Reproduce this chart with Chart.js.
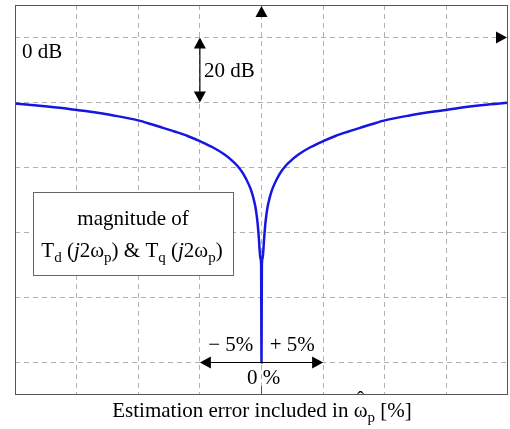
<!DOCTYPE html>
<html>
<head>
<meta charset="utf-8">
<script src="https://cdn.jsdelivr.net/npm/chart.js@4.4.1/dist/chart.umd.min.js"></script>
<style>
  body { margin: 0; background: #fff; }
</style>
</head>
<body>
<canvas id="grafico" width="510" height="429"></canvas>
<script>
// error de estimacion [%] y magnitud [dB]
var xPct = [-20, -18, -16, -15, -14, -12, -10, -9, -8, -7, -6, -5, -4, -3, -2.5, -2, -1.5, -1, -0.8, -0.65, -0.5, -0.4, -0.32, -0.25, -0.2, -0.15, -0.08, -0.03, 0,
            0.03, 0.08, 0.15, 0.2, 0.25, 0.32, 0.4, 0.5, 0.65, 0.8, 1, 1.5, 2, 2.5, 3, 4, 5, 6, 7, 8, 9, 10, 12, 14, 15, 16, 18, 20];
var magDb = [-20.3, -21.0, -21.8, -22.3, -22.8, -24.0, -25.5, -26.6, -27.8, -29.0, -30.3, -31.9, -33.7, -36.0, -37.5, -39.3, -41.8, -45.5, -47.5, -49.5, -52.0, -54.5, -57.0, -60.0, -62.5, -65.5, -68.0, -70.0, -100,
             -70.0, -68.0, -65.5, -62.5, -60.0, -57.0, -54.5, -52.0, -49.5, -47.5, -45.5, -41.8, -39.3, -37.5, -36.0, -33.7, -31.9, -30.3, -29.0, -27.8, -26.6, -25.5, -24.0, -22.8, -22.3, -21.7, -20.8, -20.1];
var xTicks = [-15, -10, -5, 0, 5, 10, 15];
var yTicks = [-100, -80, -60, -40, -20, 0];

var puntos = [];
for (var i = 0; i < xPct.length; i++) {
  puntos.push({ x: xPct[i], y: magDb[i] });
}

var fuente = '"Liberation Serif", "Times New Roman", serif';

function flecha(c, x, y, dir) {
  // punta de flecha rellena, dir: 'up','down','left','right'
  var l = 11, h = 6;
  c.beginPath();
  c.moveTo(x, y);
  if (dir == 'up') { c.lineTo(x - h, y + l); c.lineTo(x + h, y + l); }
  if (dir == 'down') { c.lineTo(x - h, y - l); c.lineTo(x + h, y - l); }
  if (dir == 'left') { c.lineTo(x + l, y - h); c.lineTo(x + l, y + h); }
  if (dir == 'right') { c.lineTo(x - l, y - h); c.lineTo(x - l, y + h); }
  c.closePath();
  c.fill();
}

// texto con subindices: [texto, tipo] tipo: 'n' normal, 's' subindice, 'i' italica
function textoMixto(c, partes, xc, y) {
  var total = 0;
  var fonts = { n: '21px ' + fuente, s: '15px ' + fuente, i: 'italic 21px ' + fuente };
  partes.forEach(function (p) { c.font = fonts[p[1]]; total += c.measureText(p[0]).width; });
  var x = xc - total / 2;
  c.textAlign = 'left';
  var pos = [];
  partes.forEach(function (p) {
    c.font = fonts[p[1]];
    c.fillText(p[0], x, p[1] == 's' ? y + 5 : y);
    var w = c.measureText(p[0]).width;
    pos.push([x, w]);
    x += w;
  });
  return pos;
}

var anotaciones = {
  id: 'anotaciones',
  afterDraw: function (chart) {
    var c = chart.ctx;
    var a = chart.chartArea;
    var sx = chart.scales.x, sy = chart.scales.y;
    c.save();
    // marco
    c.strokeStyle = '#555';
    c.lineWidth = 1;
    c.strokeRect(a.left + 0.5, a.top + 0.5, a.right - a.left - 1, a.bottom - a.top - 1);
    // marca en 0 %
    c.beginPath();
    c.moveTo(sx.getPixelForValue(0), a.bottom);
    c.lineTo(sx.getPixelForValue(0), a.bottom - 9);
    c.stroke();

    c.fillStyle = '#000';
    c.strokeStyle = '#000';
    // flechas de los ejes
    flecha(c, sx.getPixelForValue(0), a.top + 1, 'up');
    flecha(c, a.right - 1, sy.getPixelForValue(0), 'right');

    // 20 dB
    var x20 = sx.getPixelForValue(-5);
    c.lineWidth = 1.2;
    c.beginPath();
    c.moveTo(x20, sy.getPixelForValue(0) + 2);
    c.lineTo(x20, sy.getPixelForValue(-20) - 2);
    c.stroke();
    flecha(c, x20, sy.getPixelForValue(0), 'up');
    flecha(c, x20, sy.getPixelForValue(-20), 'down');

    // -5% / +5%
    var yb = sy.getPixelForValue(-100);
    c.beginPath();
    c.moveTo(sx.getPixelForValue(-5) + 2, yb);
    c.lineTo(sx.getPixelForValue(5) - 2, yb);
    c.stroke();
    flecha(c, sx.getPixelForValue(-5), yb, 'left');
    flecha(c, sx.getPixelForValue(5), yb, 'right');

    c.font = '21px ' + fuente;
    c.textBaseline = 'alphabetic';
    c.textAlign = 'left';
    c.fillText('0 dB', a.left + 7, sy.getPixelForValue(0) + 20);
    c.fillText('20 dB', x20 + 4, sy.getPixelForValue(-10) + 7);
    c.textAlign = 'center';
    c.fillText('\u2212 5%', sx.getPixelForValue(-2.5), yb - 12);
    c.fillText('+ 5%', sx.getPixelForValue(2.5), yb - 12);
    c.fillText('0 %', sx.getPixelForValue(0) + 2, yb + 21);

    // recuadro
    c.fillStyle = '#fff';
    c.fillRect(33, 192, 200, 83);
    c.strokeStyle = '#666';
    c.lineWidth = 1;
    c.strokeRect(33.5, 192.5, 200, 83);
    c.fillStyle = '#000';
    c.textAlign = 'center';
    c.font = '21px ' + fuente;
    c.fillText('magnitude of', 133, 225);
    textoMixto(c, [['T', 'n'], ['d', 's'], [' (', 'n'], ['j', 'i'], ['2\u03c9', 'n'], ['p', 's'], [') & T', 'n'], ['q', 's'], [' (', 'n'], ['j', 'i'], ['2\u03c9', 'n'], ['p', 's'], [')', 'n']], 132, 257);

    // titulo del eje x
    var pos = textoMixto(c, [['Estimation error included in ', 'n'], ['\u03c9', 'n'], ['p', 's'], [' [%]', 'n']], 262, 417);
    c.font = '21px ' + fuente;
    c.textAlign = 'center';
    c.fillText('\u02c6', pos[1][0] + pos[1][1] / 2, 406);
    c.restore();
  }
};

var ctx = document.getElementById('grafico');
new Chart(ctx, {
  type: 'line',
  data: {
    datasets: [{
      data: puntos,
      borderColor: '#1616e0',
      borderWidth: 2.5,
      pointRadius: 0,
      fill: false,
      cubicInterpolationMode: 'monotone'
    }]
  },
  options: {
    responsive: false,
    animation: false,
    layout: { padding: { left: 15, right: 2, top: 5, bottom: 34 } },
    plugins: { legend: { display: false }, tooltip: { enabled: false } },
    scales: {
      x: {
        type: 'linear', min: -20, max: 20,
        afterBuildTicks: function (ax) { ax.ticks = xTicks.map(function (v) { return { value: v }; }); },
        ticks: { display: false },
        grid: { color: '#b0b0b0', drawTicks: false },
        border: { display: false, dash: [5, 4] }
      },
      y: {
        min: -110, max: 10,
        afterBuildTicks: function (ax) { ax.ticks = yTicks.map(function (v) { return { value: v }; }); },
        ticks: { display: false },
        grid: { color: '#b0b0b0', drawTicks: false },
        border: { display: false, dash: [5, 4] }
      }
    }
  },
  plugins: [anotaciones]
});
</script>
</body>
</html>
